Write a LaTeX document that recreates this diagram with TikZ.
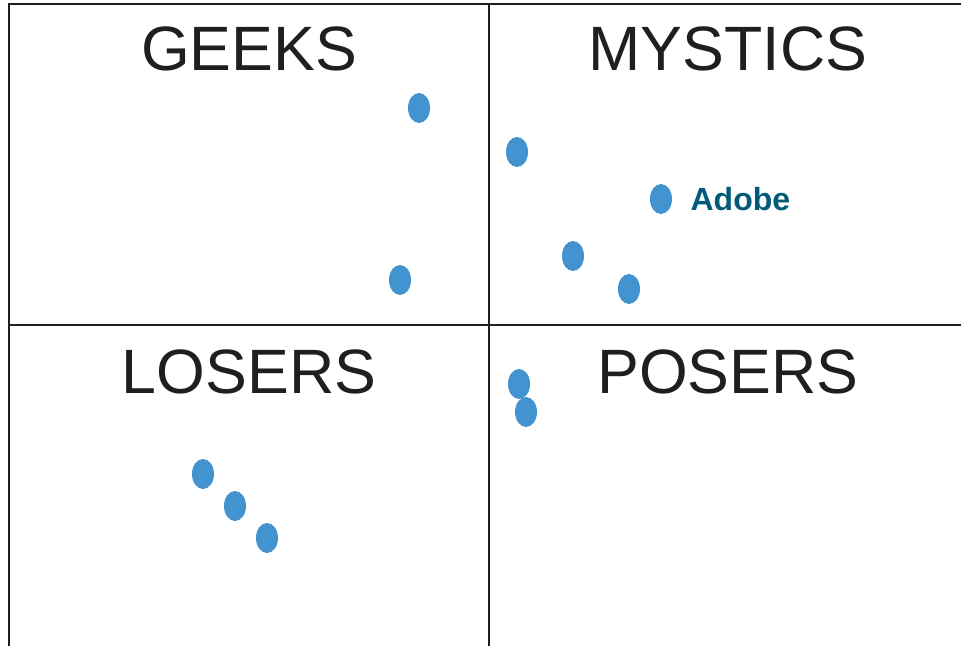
\documentclass[tikz,border=0pt]{standalone}
\usepackage{fontspec}
\setmainfont{Liberation Sans}
\usetikzlibrary{shapes.geometric,positioning}
\definecolor{dotblue}{HTML}{4393D0}
\definecolor{adobeteal}{HTML}{005A78}
\begin{document}
\begin{tikzpicture}[x=0.75pt,y=-0.75pt]
        \tikzstyle{every node}=[inner sep=0pt]
        \tikzstyle{quadrant}=[font=\fontsize{47}{50}\selectfont,text=black!88]
        \tikzstyle{dot}=[ellipse,fill=dotblue,minimum width=16.5pt,minimum height=22.5pt]
        \tikzstyle{grid}=[line width=1.5pt,black!88]
        \useasboundingbox (0,0) rectangle (961,646);
        \draw[grid] (9,646) -- (9,4) -- (961,4);
        \draw[grid] (489,4) -- (489,646);
        \draw[grid] (9,325) -- (961,325);
        \node[quadrant] (geeks) at (249,49) {GEEKS};
        \node[quadrant] (mystics) at (728,49) {MYSTICS};
        \node[quadrant] (losers) at (249,372) {LOSERS};
        \node[quadrant] (posers) at (728,372) {POSERS};
        % geeks
        \node[dot] (g1) at (419,108) {};
        \node[dot] (g2) at (400,280) {};
        % mystics
        \node[dot] (m1) at (517,152) {};
        \node[dot] (adobe) at (661,199) {};
        \node[dot] (m2) at (573,256) {};
        \node[dot] (m3) at (629,289) {};
        \node[right=22pt of adobe.center,anchor=west,font=\bfseries\fontsize{24}{26}\selectfont,text=adobeteal] (adobelabel) {Adobe};
        % posers
        \node[dot] (p1) at (519,384) {};
        \node[dot] (p2) at (526,412) {};
        % losers
        \node[dot] (l1) at (203,474) {};
        \node[dot] (l2) at (235,506) {};
        \node[dot] (l3) at (267,538) {};
\end{tikzpicture}
\end{document}
